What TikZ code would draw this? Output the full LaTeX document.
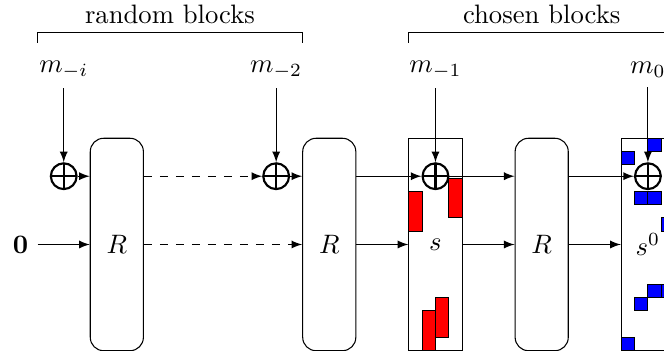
\documentclass[tikz,border=0pt]{standalone}
\usepackage{amsmath}
\usetikzlibrary{shapes,arrows,positioning}

\begin{document}
\begin{tikzpicture}[
    rbox/.style={draw, rounded corners=5pt, minimum width=0.7cm, minimum height=2.8cm, inner sep=0pt},
    sbox/.style={draw, minimum width=0.7cm, minimum height=2.8cm, inner sep=0pt},
    xorsum/.style={circle, draw, thick, minimum size=0.34cm, inner sep=0pt,
        path picture={\draw[thick] (path picture bounding box.north) -- (path picture bounding box.south)
                      (path picture bounding box.west) -- (path picture bounding box.east);}},
    redcell/.style={draw, fill=red},
    bluecell/.style={draw, fill=blue}
]
    \useasboundingbox (-1.19,-1.4034) rectangle (7.562,3.2226);
    \clip (-1.19,-1.4034) rectangle (7.562,3.2226);

    % rounds and states
    \node[rbox] (r1) at (0.35,0) {$R$};
    \node[rbox] (r2) at (3.15,0) {$R$};
    \node[sbox] (s) at (4.55,0) {$s$};
    \node[rbox] (r3) at (5.95,0) {$R$};
    \node[sbox] (s0) at (7.35,0) {$s^0$};

    % chosen cells
    \foreach \c/\r in {0/4,3/3,1/13,2/12}
        \draw[redcell] ({4.2+0.175*\c},{1.4-0.175*\r}) rectangle ++(0.175,-0.525);
    \foreach \c/\r in {2/0,0/1,1/4,2/4,3/6,2/11,3/11,1/12,0/15}
        \draw[bluecell] ({7.0+0.175*\c},{1.4-0.175*\r}) rectangle ++(0.175,-0.175);

    % xor points
    \node[xorsum] (x1) at (-0.35,0.9) {};
    \node[xorsum] (x2) at (2.45,0.9) {};
    \node[xorsum] (x3) at (4.55,0.9) {};
    \node[xorsum] (x4) at (7.35,0.9) {};

    % message blocks
    \node (mi) at (-0.35,2.3) {$m_{-i}$};
    \node (m2) at (2.45,2.3) {$m_{-2}$};
    \node (m1) at (4.55,2.3) {$m_{-1}$};
    \node (m0) at (7.35,2.3) {$m_0$};
    \node (zero) at (-0.92,0) {$\mathbf{0}$};

    \draw[-latex] (mi) -- (x1);
    \draw[-latex] (m2) -- (x2);
    \draw[-latex] (m1) -- (x3);
    \draw[-latex] (m0) -- (x4);

    \draw[-latex] (x1) -- (r1.west |- x1);
    \draw[-latex] (zero) -- (r1.west);
    \draw[-latex, dashed] (r1.east |- x2) -- (x2);
    \draw[-latex, dashed] (r1.east) -- (r2.west);
    \draw[-latex] (x2) -- (r2.west |- x2);
    \draw[-latex] (r2.east |- x3) -- (x3);
    \draw[-latex] (r2.east) -- (s.west);
    \draw[-latex] (x3) -- (r3.west |- x3);
    \draw[-latex] (s.east) -- (r3.west);
    \draw[-latex] (r3.east |- x4) -- (x4);
    \draw[-latex] (r3.east) -- (s0.west);

    % braces
    \node (rnd) at (1.05,3.03) {random blocks};
    \node (chs) at (5.95,3.03) {chosen blocks};
    \draw (-0.7,2.66) -- (-0.7,2.79) -- (2.8,2.79) -- (2.8,2.66);
    \draw (4.2,2.66) -- (4.2,2.79) -- (7.7,2.79) -- (7.7,2.66);
\end{tikzpicture}
\end{document}
